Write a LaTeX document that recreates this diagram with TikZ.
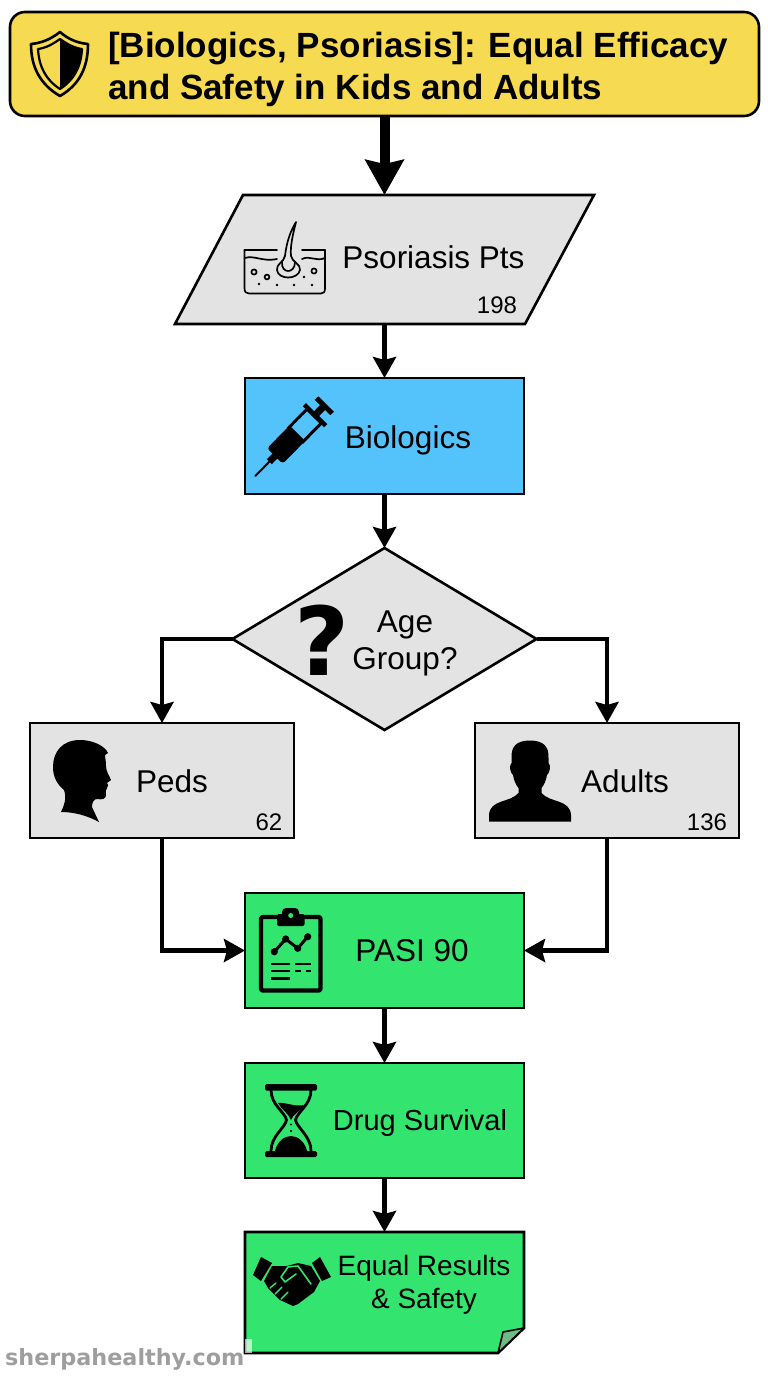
\documentclass[tikz,border=0pt]{standalone}
\usepackage{fontspec}
\setmainfont{Liberation Sans}
\newfontfamily\markfont{DejaVu Sans}
\usetikzlibrary{arrows.meta,shapes.geometric}

\definecolor{titleyellow}{HTML}{F6DA52}
\definecolor{inputgrey}{HTML}{E3E3E3}
\definecolor{drugblue}{HTML}{55C3FB}
\definecolor{resultgreen}{HTML}{33E56F}
\definecolor{foldgreen}{HTML}{6DBB86}

\tikzset{
    box/.style={draw, line width=2.6pt, rectangle, inner sep=0pt, outer sep=0pt, minimum width=#1},
    box/.default=279pt,
    hidden/.style={inner sep=0pt, outer sep=0pt},
    word/.style={inner sep=0pt, align=center, font=\fontsize{31.5}{37}\selectfont},
    count/.style={inner sep=0pt, font=\fontsize{24}{28}\selectfont},
    flow/.style={line width=4.5pt, -{Stealth[length=21pt,width=23pt,inset=3pt]}},
    bigflow/.style={line width=10pt, -{Stealth[length=35pt,width=38pt,inset=4pt]}},
}

\def\psoriasisshape{(243,195) -- (594,195) -- (525,324) -- (175,324) -- cycle}
\def\noteshape{(245,1232) -- (524,1232) -- (524,1328) -- (498,1353) -- (245,1353) -- cycle}
\def\shieldouter{(60,32) .. controls (51,39) and (42,43) .. (31,44) .. controls (31,68) and (41,85) .. (60,96) .. controls (79,85) and (88,68) .. (88,44) .. controls (77,43) and (68,39) .. (60,32) -- cycle}
\def\shieldinner{(60,39) .. controls (53,44) and (46,48) .. (38,49) .. controls (39,67) and (46,80) .. (60,89) .. controls (74,80) and (81,67) .. (82,49) .. controls (74,48) and (67,44) .. (60,39) -- cycle}

\begin{document}
\begin{tikzpicture}[x=1pt,y=-1pt]
    \useasboundingbox (0,0) rectangle (768,1376);

    %% The boxes
    \node[box=749pt, rounded corners=15pt, fill=titleyellow, minimum height=104pt] (title) at (384.5,64) {};
    \fill[inputgrey] \psoriasisshape;
    \draw[line width=2.6pt, line join=miter] \psoriasisshape;
    \node[hidden, minimum width=350pt, minimum height=129pt] (patients) at (384.5,259.5) {};
    \node[box, fill=drugblue, minimum height=116pt] (biologics) at (384.5,436) {};
    \node[draw, line width=2.6pt, diamond, aspect=1.67, fill=inputgrey, inner sep=0pt, outer sep=0pt, minimum width=304pt, minimum height=182pt] (age) at (384.5,639) {};
    \node[box=264pt, fill=inputgrey, minimum height=115pt] (peds) at (162,780.5) {};
    \node[box=264pt, fill=inputgrey, minimum height=115pt] (adults) at (607,780.5) {};
    \node[box, fill=resultgreen, minimum height=115pt] (pasi) at (384.5,950.5) {};
    \node[box, fill=resultgreen, minimum height=115pt] (survival) at (384.5,1120.5) {};
    \fill[resultgreen] \noteshape;
    \draw[line width=2.6pt, line join=miter] \noteshape;
    \node[hidden, minimum width=279pt, minimum height=121pt] (equal) at (384.5,1292.5) {};
    \filldraw[fill=foldgreen, line width=1.6pt, line join=round] (498,1353) -- (503,1332) -- (524,1328) -- cycle;

    %% The connectors
    \draw[bigflow] (title.south) -- (patients.north);
    \draw[flow] (patients.south) -- (biologics.north);
    \draw[flow] (biologics.south) -- (age.north);
    \draw[flow] (age.west) -| (peds.north);
    \draw[flow] (age.east) -| (adults.north);
    \draw[flow] (peds.south) |- (pasi.west);
    \draw[flow] (adults.south) |- (pasi.east);
    \draw[flow] (pasi.south) -- (survival.north);
    \draw[flow] (survival.south) -- (equal.north);

    %% The labels
    \node[inner sep=0pt, anchor=west, align=left, font=\fontsize{35}{42}\selectfont\bfseries] (titletext) at (108,69) {[Biologics, Psoriasis]: Equal Efficacy\\and Safety in Kids and Adults};
    \node[word] (patientstext) at (433.5,257) {Psoriasis Pts};
    \node[count] (patientscount) at (497,305) {198};
    \node[word] (biologicstext) at (408,440) {Biologics};
    \node[word] (agetext) at (405,643) {Age\\Group?};
    \node[inner sep=0pt, font=\markfont\fontsize{95}{95}\selectfont\bfseries] (agemark) at (322,640) {?};
    \node[word] (pedstext) at (172,781) {Peds};
    \node[count] (pedscount) at (269,822) {62};
    \node[word] (adultstext) at (625,781) {Adults};
    \node[count] (adultscount) at (707,822) {136};
    \node[word] (pasitext) at (412,951) {PASI 90};
    \node[word, font=\fontsize{29}{34}\selectfont] (survivaltext) at (420,1123) {Drug Survival};
    \node[word, font=\fontsize{28}{33}\selectfont] (equaltext) at (424,1285) {Equal Results\\\& Safety};

    %% Shield
    \draw[line width=2.6pt, line join=round] \shieldouter;
    \draw[line width=2.2pt, line join=round] \shieldinner;
    \fill (60,39) .. controls (67,44) and (74,48) .. (82,49) .. controls (81,67) and (74,80) .. (60,89) -- cycle;

    %% Skin
    \begin{scope}[line width=1.7pt, line join=round, line cap=round]
        \draw (244.5,250) -- (244.5,288) .. controls (244.5,292) and (246,293.5) .. (249,293.5) -- (321,293.5) .. controls (324,293.5) and (325,292) .. (325,288) -- (325,250);
        \draw (244.5,250) -- (277,250);
        \draw (302,250) -- (325,250);
        \draw (244.5,258) .. controls (255,255) and (262,262) .. (277,259);
        \draw (302,259) .. controls (310,255) and (316,262) .. (325,258);
        \draw (296,222) .. controls (288,235) and (286,248) .. (285,256) .. controls (284,262) and (276,264) .. (277,270) .. controls (278,280) and (298,280) .. (300,270) .. controls (301,264) and (292,262) .. (291,256) .. controls (290,246) and (293,234) .. (296,222) -- cycle;
        \draw (282,262) .. controls (281,274) and (295,274) .. (295,262);
        \draw (254,272) circle (2.6);
        \draw (267,277) circle (2.4);
        \draw (314,271) circle (2.6);
    \end{scope}
    \foreach \dotx/\doty in {259/284, 277/285, 294/285, 312/285, 304/277} {
        \fill (\dotx,\doty) circle (1.3);
    }

    %% Syringe
    \begin{scope}[shift={(255.3,476)}, rotate=45.5]
        \draw[line width=2pt, line cap=round] (0,0) -- (25,0);
        \fill (20,-3.5) rectangle (30,3.5);
        \fill[rounded corners=3pt] (28,-11) rectangle (60,11);
        \draw[line width=3pt] (58,-10) rectangle (84,10);
        \fill (83,-15) rectangle (87.5,15);
        \fill (86,-3.5) rectangle (97,3.5);
        \fill (96,-11) rectangle (101,11);
        \draw[line width=2pt, drugblue] (64,-8.5) -- (64,1) (70,-8.5) -- (70,-2) (76,-8.5) -- (76,1);
    \end{scope}

    %% Boy
    \fill (80,740) .. controls (62,740) and (53,752) .. (53,767) .. controls (53,778) and (58,785) .. (64,790) .. controls (67,798) and (64,806) .. (61,812) .. controls (75,812) and (88,816) .. (99,822) -- (92,807) .. controls (92,802) and (94,799) .. (97,799) .. controls (102,800) and (106,799) .. (106,795) .. controls (106,792) and (105,790) .. (107,788) .. controls (109,786) and (108,784) .. (107,783) -- (111,780) .. controls (109,775) and (106,771) .. (106,766) .. controls (106,761) and (105,757) .. (105,755) -- (108,753) .. controls (105,746) and (93,740) .. (80,740) -- cycle;

    %% Adult
    \fill (530,740.5) .. controls (516,740.5) and (511,747) .. (511.5,758) -- (511.5,763) .. controls (509,765) and (510,773) .. (513,775) .. controls (514,781) and (516,785) .. (518.5,788) -- (518.5,793) .. controls (510,803) and (490,799) .. (489,815) -- (489,821.5) -- (571,821.5) -- (571,815) .. controls (570,799) and (550,803) .. (541.5,793) -- (541.5,788) .. controls (544,785) and (546,781) .. (547,775) .. controls (550,773) and (551,765) .. (548.5,763) -- (548.5,758) .. controls (549,747) and (544,740.5) .. (530,740.5) -- cycle;

    %% Clipboard
    \draw[line width=4.4pt, rounded corners=2pt, line join=round] (277,917) -- (261,917) -- (261,990.5) -- (320.5,990.5) -- (320.5,917) -- (304,917);
    \fill[rounded corners=2pt] (277,914) rectangle (304.5,926);
    \fill[rounded corners=4pt] (282,908) rectangle (299,920);
    \fill[resultgreen] (290.7,915.5) circle (2.5);
    \draw[line width=3pt, line join=round] (274.3,951.7) -- (285.7,939) -- (297.7,948.3) -- (307.7,936.7);
    \foreach \px/\py in {274.3/951.7, 285.7/939, 297.7/948.3, 307.7/936.7} {
        \fill (\px,\py) circle (3.6);
    }
    \draw[line width=2.8pt] (271,964) -- (290,964) (295,964) -- (311,964);
    \draw[line width=2.8pt] (271,971) -- (290,971) (295,971) -- (301,971) (306,971) -- (311,971);
    \draw[line width=2.8pt] (271,978.5) -- (290,978.5);

    %% Hourglass
    \fill[rounded corners=1.5pt] (265,1084) rectangle (317,1090.5);
    \fill[rounded corners=1.5pt] (265,1151) rectangle (317,1157);
    \draw[line width=2.8pt, line join=round] (271,1090) .. controls (271,1105) and (285,1112) .. (286.5,1120) .. controls (285,1128) and (271,1136) .. (271,1151);
    \draw[line width=2.8pt, line join=round] (311,1090) .. controls (311,1105) and (297,1112) .. (295.5,1120) .. controls (297,1128) and (311,1136) .. (311,1151);
    \fill (278,1103) .. controls (286,1102) and (294,1107) .. (304,1105) .. controls (300,1112) and (293,1114) .. (291,1120) .. controls (289,1114) and (282,1110) .. (278,1103) -- cycle;
    \fill (275,1151) .. controls (277,1142) and (284,1136) .. (291,1136) .. controls (298,1136) and (305,1142) .. (307,1151) -- cycle;
    \fill (291,1124.5) circle (1.2);
    \fill (291,1131) circle (1.2);

    %% Handshake
    \fill (261,1257) -- (272,1263) -- (261,1281) -- (253,1275) -- cycle;
    \fill (320,1257) -- (331,1277) -- (322,1281) -- (312,1263) -- cycle;
    \fill[line join=round] (272,1266) -- (287,1266) -- (298,1263) -- (311,1266) -- (320,1281) -- (314,1292) -- (298,1304) -- (293,1306) -- (280,1300) -- (268,1288) -- (264,1281) -- cycle;
    \draw[resultgreen, line width=1.6pt, line cap=round, line join=round] (311,1284) -- (298,1266) -- (288,1267) -- (281,1277) -- (285,1282) -- (296,1274);
    \draw[resultgreen, line width=1.4pt, line cap=round] (270,1288) -- (276,1283) (275,1294) -- (282,1287) (281,1299) -- (288,1292);

    %% Watermark
    \fill[white, opacity=0.65] (245,1339) rectangle (252,1353);
    \node[inner sep=0pt, anchor=base west, text=black!38, font=\markfont\fontsize{22.3}{26}\selectfont\bfseries] (watermark) at (5,1365) {sherpahealthy.com};
\end{tikzpicture}
\end{document}
